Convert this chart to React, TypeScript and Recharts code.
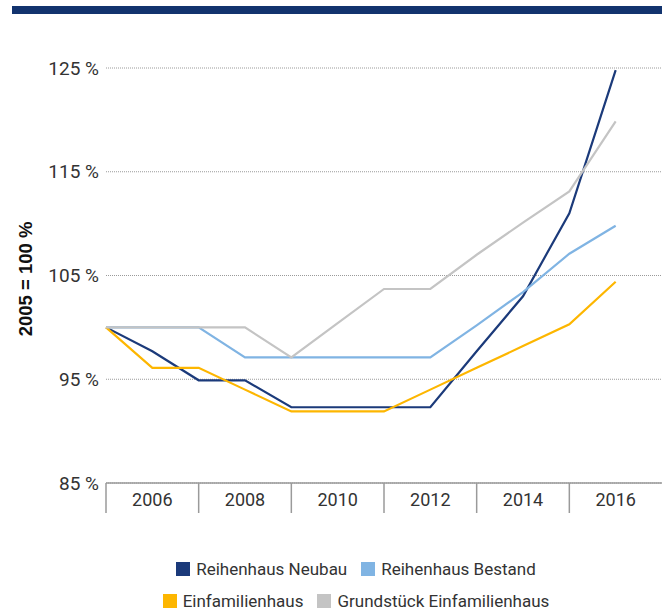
import { LineChart, Line, XAxis, YAxis, CartesianGrid } from "recharts";

// Index 2005 = 100 %
const years = [2005, 2006, 2007, 2008, 2009, 2010, 2011, 2012, 2013, 2014, 2015, 2016];
const reihenhausNeubau = [100, 97.7, 94.9, 94.9, 92.3, 92.3, 92.3, 92.3, 97.7, 103.0, 111.0, 124.8];
const reihenhausBestand = [100, 100, 100, 97.1, 97.1, 97.1, 97.1, 97.1, 100.2, 103.4, 107.1, 109.8];
const einfamilienhaus = [100, 96.1, 96.1, 94.0, 91.9, 91.9, 91.9, 94.0, 96.1, 98.2, 100.3, 104.4];
const grundstueck = [100, 100, 100, 100, 97.1, 100.4, 103.7, 103.7, 107.0, 110.1, 113.1, 119.85];
const yTicks = [85, 95, 105, 115, 125];

const series = [
  { key: "neubau", name: "Reihenhaus Neubau", color: "#1b3a7a" },
  { key: "bestand", name: "Reihenhaus Bestand", color: "#80b4e3" },
  { key: "efh", name: "Einfamilienhaus", color: "#fdb600" },
  { key: "grund", name: "Grundstück Einfamilienhaus", color: "#c4c4c4" },
];

const data = years.map((year, i) => ({
  year,
  neubau: reihenhausNeubau[i],
  bestand: reihenhausBestand[i],
  efh: einfamilienhaus[i],
  grund: grundstueck[i],
}));

const FONT = "'Liberation Sans Narrow', 'Arial Narrow', Roboto, sans-serif";

function YearTick(props: any) {
  const { x, y, payload } = props;
  const year = payload.value as number;
  if (year % 2 === 1) {
    return <line x1={x} x2={x} y1={y} y2={y + 30} stroke="#9a9a9a" strokeWidth={1.5} />;
  }
  return (
    <text x={x} y={y + 23} textAnchor="middle" fontSize={18} fill="#333" fontFamily={FONT}>
      {year}
    </text>
  );
}

function LegendItem({ name, color }: { name: string; color: string }) {
  return (
    <span style={{ display: "inline-flex", alignItems: "center", margin: "0 7px" }}>
      <span style={{ width: 14, height: 14, background: color, marginRight: 6 }} />
      <span>{name}</span>
    </span>
  );
}

export default function App() {
  return (
    <div
      style={{
        position: "absolute",
        left: 0,
        top: 0,
        width: 662,
        height: 614,
        background: "#fff",
        fontFamily: FONT,
        color: "#333",
      }}
    >
      <div style={{ position: "absolute", left: 12, top: 6, width: 650, height: 8, background: "#12336e" }} />
      <LineChart width={662} height={520} data={data} margin={{ top: 68, right: 0, bottom: 0, left: 0 }}>
        <CartesianGrid vertical={false} stroke="#9a9a9a" strokeDasharray="1 1" />
        <XAxis
          type="number"
          dataKey="year"
          domain={[2005, 2017]}
          ticks={years}
          interval={0}
          tickLine={false}
          tickSize={0}
          tickMargin={0}
          height={37}
          axisLine={{ stroke: "#9a9a9a", strokeWidth: 1.5 }}
          tick={<YearTick />}
        />
        <YAxis
          type="number"
          domain={[85, 125]}
          ticks={yTicks}
          width={106}
          axisLine={false}
          tickLine={false}
          tickSize={0}
          tickMargin={7}
          tick={{ fontSize: 19, fill: "#333", fontFamily: FONT }}
          tickFormatter={(v) => `${v} %`}
          label={{
            content: () => (
              <text
                x={25}
                y={279}
                transform="rotate(-90 25 279)"
                textAnchor="middle"
                dominantBaseline="central"
                fontSize={18.5}
                fontWeight="bold"
                fill="#111"
                fontFamily="'Liberation Sans', Arial, sans-serif"
              >
                2005 = 100 %
              </text>
            ),
          }}
        />
        {series.map((s) => (
          <Line
            key={s.key}
            type="linear"
            dataKey={s.key}
            name={s.name}
            stroke={s.color}
            strokeWidth={2.2}
            dot={false}
            activeDot={false}
            isAnimationActive={false}
          />
        ))}
      </LineChart>
      <div
        style={{
          position: "absolute",
          left: 0,
          top: 553,
          width: 662,
          boxSizing: "border-box",
          paddingLeft: 50,
          fontSize: 17,
          lineHeight: "32px",
        }}
      >
        <div style={{ display: "flex", justifyContent: "center" }}>
          <LegendItem name={series[0].name} color={series[0].color} />
          <LegendItem name={series[1].name} color={series[1].color} />
        </div>
        <div style={{ display: "flex", justifyContent: "center" }}>
          <LegendItem name={series[2].name} color={series[2].color} />
          <LegendItem name={series[3].name} color={series[3].color} />
        </div>
      </div>
    </div>
  );
}
